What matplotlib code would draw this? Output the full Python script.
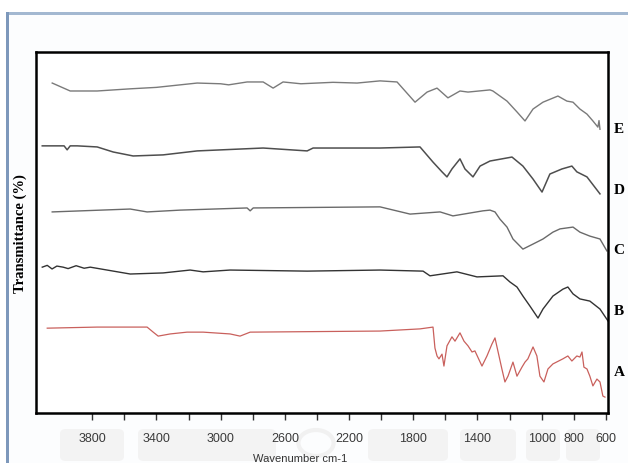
import matplotlib
matplotlib.use("Agg")
import matplotlib.pyplot as plt
from matplotlib.patches import Rectangle, FancyBboxPatch, Circle

# ---------------- data ----------------
wn_E = [4049, 3937, 3769, 3563, 3400, 3252, 3146, 3000, 2950, 2835, 2735, 2673, 2611,
        2500, 2300, 2150, 2007, 1901, 1789, 1714, 1652, 1584, 1509, 1459, 1322, 1304,
        1216, 1154, 1104, 1054, 992, 899, 843, 805, 762, 718, 681, 650, 643, 637]
T_E = [91.4, 89.2, 89.2, 89.8, 90.2, 90.9, 91.4, 91.2, 90.9, 91.7, 91.7, 90.0, 91.7,
       91.2, 91.6, 91.4, 92.0, 91.7, 86.1, 88.9, 90.0, 87.3, 89.2, 88.9, 89.5, 89.2,
       86.4, 83.4, 80.9, 84.2, 86.1, 87.8, 86.4, 86.1, 84.2, 82.8, 80.9, 79.2, 81.0, 78.6]

wn_D = [4111, 3975, 3956, 3937, 3893, 3769, 3669, 3545, 3358, 3146, 2735, 2461, 2424,
        2007, 1758, 1677, 1621, 1590, 1559, 1509, 1478, 1428, 1384, 1322, 1185, 1117,
        1054, 998, 949, 874, 812, 781, 718, 637]
T_D = [74.0, 74.0, 72.9, 74.0, 74.0, 73.7, 72.3, 71.2, 71.5, 72.6, 73.4, 72.6, 73.4,
       73.4, 73.7, 69.5, 66.8, 65.4, 67.6, 70.4, 67.6, 65.4, 68.4, 69.8, 70.9, 68.4,
       64.8, 61.2, 66.2, 67.6, 68.4, 66.8, 65.4, 60.7]

wn_C = [4049, 3563, 3458, 3252, 2835, 2816, 2797, 2007, 1820, 1633, 1553, 1366, 1322,
        1291, 1260, 1216, 1179, 1117, 1054, 992, 930, 886, 805, 762, 700, 637, 594]
T_C = [55.7, 56.5, 55.7, 56.2, 56.8, 56.0, 56.8, 57.1, 55.1, 55.7, 54.6, 56.0, 56.2,
       55.7, 53.7, 51.5, 48.2, 45.4, 46.8, 48.2, 50.1, 51.0, 51.5, 50.1, 49.0, 48.2, 44.9]

wn_B = [4111, 4080, 4050, 4020, 3981, 3950, 3900, 3850, 3812, 3563, 3358, 3190, 3109,
        2941, 2461, 2007, 1739, 1696, 1528, 1403, 1241, 1198, 1154, 1117, 1073, 1023,
        992, 930, 868, 837, 805, 762, 700, 637, 587]
T_B = [40.4, 40.9, 39.9, 40.7, 40.4, 40.0, 40.8, 40.1, 40.4, 38.5, 38.8, 39.6, 39.1,
       39.6, 39.3, 39.6, 39.3, 38.0, 39.1, 37.7, 38.0, 36.3, 34.9, 32.4, 29.6, 26.3,
       28.8, 32.4, 34.3, 34.9, 33.0, 31.6, 31.0, 28.8, 25.5]

wn_A = [4080, 3769, 3458, 3420, 3389, 3314, 3209, 3109, 2941, 2879, 2816, 2007, 1758,
        1677, 1665, 1652, 1640, 1621, 1609, 1590, 1559, 1540, 1509, 1484, 1459, 1434,
        1416, 1372, 1341, 1310, 1291, 1273, 1248, 1229, 1210, 1179, 1154, 1123, 1104,
        1086, 1054, 1030, 1011, 986, 961, 930, 868, 837, 812, 781, 762, 749, 737, 718,
        700, 681, 656, 637, 619, 606]
T_A = [23.5, 23.8, 23.8, 22.4, 21.3, 21.9, 22.4, 22.4, 21.9, 21.3, 22.4, 22.7, 23.3,
       23.8, 18.0, 15.8, 15.0, 16.3, 13.0, 18.6, 21.1, 19.9, 22.2, 19.9, 18.6, 16.9,
       17.2, 13.0, 15.8, 19.1, 20.8, 17.2, 12.2, 8.6, 10.2, 14.1, 10.2, 12.7, 14.1,
       15.0, 18.3, 15.8, 10.2, 8.6, 12.2, 13.6, 15.0, 15.8, 14.4, 15.8, 15.5, 16.9, 12.7,
       12.2, 10.2, 7.5, 9.4, 8.6, 4.7, 4.4]

series_names = ["E", "D", "C", "B", "A"]
label_T = [78.7, 61.8, 45.4, 28.3, 11.6]

tick_values = list(range(3800, 599, -200))
tick_labels = ["3800", "", "3400", "", "3000", "", "2600", "", "2200", "", "1800", "",
               "1400", "", "1000", "800", "600"]
# ----------------------------------------------------------------

W, H = 628, 464
fig = plt.figure(figsize=(W / 100, H / 100), dpi=100)
fig.patch.set_facecolor("white")

# outer light-blue frame of the screenshot
fig.patches.append(Rectangle((6 / W, 0), (W - 6) / W, (H - 13) / H, transform=fig.transFigure,
                             facecolor="#fcfdfe", edgecolor="none", zorder=-3))
fig.patches.append(Rectangle((6 / W, (H - 16) / H), (W - 6) / W, 3 / H, transform=fig.transFigure,
                             facecolor="#a3b8d1", edgecolor="none", zorder=-2))
fig.patches.append(Rectangle((6 / W, 0), 3 / W, (H - 13) / H, transform=fig.transFigure,
                             facecolor="#7d98bb", edgecolor="none", zorder=-2))

# faint watermark blocks behind the tick labels
for x0, x1 in [(60, 124), (138, 276), (368, 448), (460, 516), (526, 560), (566, 600)]:
    fig.patches.append(FancyBboxPatch((x0 / W, 2 / H), (x1 - x0) / W, 32 / H,
                                      boxstyle="round,pad=0,rounding_size=0.01",
                                      transform=fig.transFigure, facecolor="#f3f3f3",
                                      edgecolor="none", zorder=-1))
fig.patches.append(Circle((316 / W, 20 / H), 0.028, transform=fig.transFigure,
                          facecolor="none", edgecolor="#f1f1f1", lw=3, zorder=-1))

ax = fig.add_axes([36 / W, (H - 414) / H, (608 - 36) / W, (414 - 53) / H])
ax.set_zorder(2)
ax.set_facecolor("white")

styles = {
    "E": dict(color="#7a7a7a", lw=1.0),
    "D": dict(color="#4e4e4e", lw=1.1),
    "C": dict(color="#6a6a6a", lw=1.0),
    "B": dict(color="#333333", lw=1.0),
    "A": dict(color="#c9605c", lw=0.9),
}
data = {"E": (wn_E, T_E), "D": (wn_D, T_D), "C": (wn_C, T_C), "B": (wn_B, T_B), "A": (wn_A, T_A)}
for name in series_names:
    x, y = data[name]
    ax.plot(x, y, solid_joinstyle="round", **styles[name])

ax.set_xlim(4150, 587)
ax.set_ylim(0, 100)
ax.set_yticks([])
ax.set_xticks(tick_values)
ax.set_xticklabels(tick_labels)
ax.tick_params(axis="x", direction="out", length=5, width=1.0, color="#333333",
               pad=9, labelsize=8, labelcolor="#3a3a3a")
for lab in ax.get_xticklabels():
    lab.set_family(["Liberation Sans Narrow", "Liberation Sans", "DejaVu Sans"])
    lab.set_fontsize(9)
for sp in ax.spines.values():
    sp.set_linewidth(1.8)
    sp.set_color("black")

for name, ty in zip(series_names, label_T):
    ax.annotate(name, xy=(1.019, ty), xycoords=("axes fraction", "data"),
                ha="center", va="center", fontsize=11, fontweight="bold",
                family=["Liberation Serif", "DejaVu Serif"], annotation_clip=False)

fig.text(20 / W, (H - 234) / H, "Transmittance (%)", rotation=90, ha="center", va="center",
         fontsize=10.5, fontweight="bold", family=["Liberation Serif", "DejaVu Serif"])
fig.text(300 / W, 5 / H, "Wavenumber cm-1", ha="center", va="center", fontsize=8,
         color="#333333", family=["Liberation Sans", "DejaVu Sans"])

fig.savefig("out.png", dpi=100)
